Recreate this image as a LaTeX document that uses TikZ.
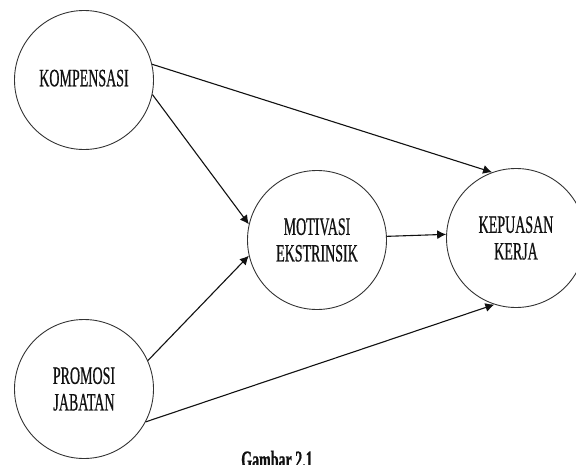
\documentclass[tikz,border=0pt]{standalone}
\usepackage{fontspec}
\usepackage{tikz}
\usetikzlibrary{arrows.meta}
\newfontfamily\condfont[FakeStretch=0.56, FakeBold=0.6]{Liberation Serif}
\definecolor{ink}{HTML}{111111}
\definecolor{rim}{HTML}{333333}

\begin{document}
\begin{tikzpicture}[x=1pt, y=-1pt,
    var/.style={circle, draw=rim, line width=0.9pt, minimum size=139pt, inner sep=0pt,
                align=center, text=ink, font=\condfont\fontsize{25}{26.6}\selectfont},
    path/.style={draw=ink, line width=1.1pt, -{Latex[length=9pt, width=9pt]}}]
  % frame of the page, the right and bottom edge cut the picture
  \useasboundingbox (0,0) rectangle (576,464);
  \clip (0,0) rectangle (576,464);
  % variables
  \node[var] (komp) at (84,80)   {\raisebox{4pt}{KOMPENSASI}};
  \node[var] (prom) at (84,389)  {PROMOSI\\JABATAN};
  \node[var] (moti) at (317,240) {MOTIVASI\\EKSTRINSIK};
  \node[var] (kepu) at (516,238) {KEPUASAN\\KERJA};
  % paths
  \draw[path] (komp.13)  -- (kepu.110);
  \draw[path] (komp.-12) -- (moti.167);
  \draw[path] (prom.24)  -- (moti.193);
  \draw[path] (prom.-28) -- (kepu.252);
  \draw[path] (moti.3)   -- (kepu.177);
  % caption, cut by the page edge
  \node[anchor=base, font=\condfont\bfseries\fontsize{25}{26.6}\selectfont, text=ink] (capt) at (277,468) {Gambar 2.1};
\end{tikzpicture}
\end{document}
